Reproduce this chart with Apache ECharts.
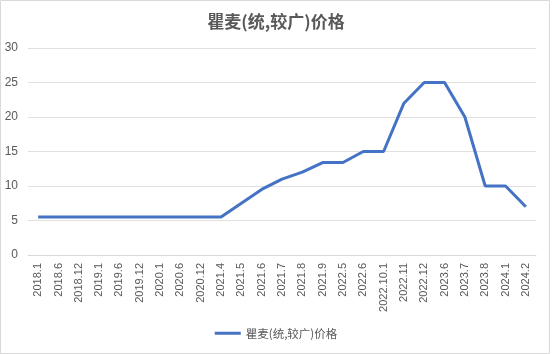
<!DOCTYPE html>
<html><head><meta charset="utf-8">
<script src="https://cdn.jsdelivr.net/npm/echarts@6/dist/echarts.min.js"></script>
<style>html,body{margin:0;padding:0;background:#fff}#c{width:552px;height:354px}</style>
</head><body><div id="c"></div>
<script>
const categories = ['2018.1','2018.6','2018.12','2019.1','2019.6','2019.12','2020.1','2020.6','2020.12','2021.4','2021.5','2021.6','2021.7','2021.8','2021.9','2022.5','2022.6','2022.10.1','2022.11','2022.12','2023.6','2023.7','2023.8','2024.1','2024.2'];
const prices = [5.5,5.5,5.5,5.5,5.5,5.5,5.5,5.5,5.5,5.5,7.5,9.5,11,12,13.4,13.4,15,15,22,25,25,20,10,10,7];
const seriesName = '瞿麦(统,较广)价格';
const chart = echarts.init(document.getElementById('c'));
chart.setOption({
  animation:false,
  textStyle:{fontFamily:'"Noto Sans CJK SC", "Liberation Sans", sans-serif'},
  graphic:[{type:'rect',shape:{x:0.5,y:0.5,width:549,height:353},style:{fill:'none',stroke:'#d9d9d9',lineWidth:1}}],
  title:{text:seriesName,left:'center',top:8,textStyle:{fontSize:17,fontWeight:'bold',color:'#595959'}},
  grid:{left:28,right:16,top:48,bottom:99,containLabel:false},
  legend:{bottom:10,left:'center',itemWidth:26,itemHeight:3,itemGap:6,icon:'rect',textStyle:{color:'#595959',fontSize:11.5},data:[seriesName]},
  xAxis:{type:'category',data:categories,boundaryGap:true,
    axisLine:{lineStyle:{color:'#d9d9d9'}},axisTick:{show:false},
    axisLabel:{rotate:90,color:'#595959',fontSize:11,interval:0,margin:8,fontFamily:'"Liberation Sans", sans-serif'}},
  yAxis:{type:'value',min:0,max:30,interval:5,
    axisLine:{show:false},axisTick:{show:false},
    splitLine:{lineStyle:{color:'#e0e0e0'}},
    axisLabel:{color:'#595959',fontSize:12,margin:10,fontFamily:'"Liberation Sans", sans-serif'}},
  series:[{name:seriesName,type:'line',data:prices,symbol:'none',lineStyle:{color:'#4472c4',width:3},itemStyle:{color:'#4472c4'}}]
});
</script></body></html>
